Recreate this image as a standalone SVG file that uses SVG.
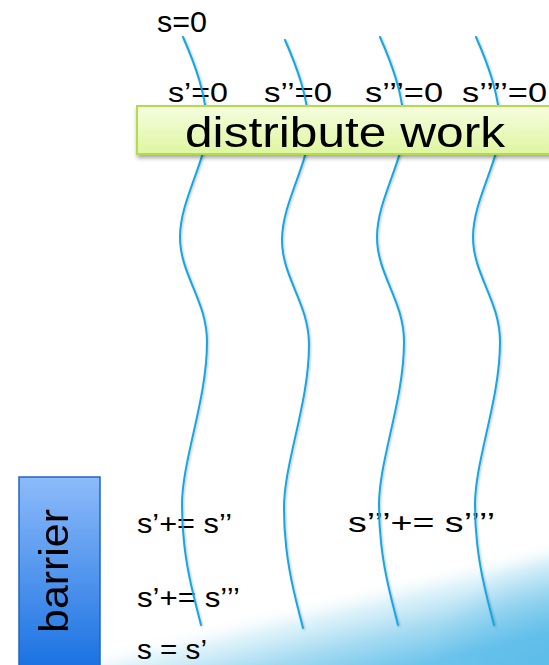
<svg xmlns="http://www.w3.org/2000/svg" xmlns:xlink="http://www.w3.org/1999/xlink" width="549" height="665" viewBox="0 0 549 665">
  <style>
    .t { font-family: "Liberation Sans", Arial, sans-serif; fill: #000; }
    .thread { fill: none; stroke: #14a6e6; stroke-width: 2; stroke-linecap: round; }
  </style>
  <defs>
    <linearGradient id="water" gradientUnits="userSpaceOnUse" x1="330" y1="592" x2="352" y2="682">
      <stop offset="0" stop-color="#ffffff" stop-opacity="0"/>
      <stop offset="0.25" stop-color="#dcf2fa" stop-opacity="0.9"/>
      <stop offset="0.6" stop-color="#a6dbf2"/>
      <stop offset="1" stop-color="#6cc4ec"/>
    </linearGradient>
    <radialGradient id="deep" cx="570" cy="700" r="150" gradientUnits="userSpaceOnUse">
      <stop offset="0" stop-color="#4fb6e6" stop-opacity="0.7"/>
      <stop offset="1" stop-color="#4fb6e6" stop-opacity="0"/>
    </radialGradient>
    <linearGradient id="green" x1="0" y1="0" x2="0" y2="1">
      <stop offset="0" stop-color="#f6fde0"/>
      <stop offset="1" stop-color="#def6a0"/>
    </linearGradient>
    <linearGradient id="blue" x1="0" y1="0" x2="0" y2="1">
      <stop offset="0" stop-color="#8dbbfa"/>
      <stop offset="1" stop-color="#146ee0"/>
    </linearGradient>
    <filter id="shadow" x="-10%" y="-20%" width="120%" height="160%">
      <feDropShadow dx="1" dy="3" stdDeviation="2" flood-color="#000" flood-opacity="0.35"/>
    </filter>
    <filter id="lineshadow" x="-20%" y="-5%" width="140%" height="110%">
      <feDropShadow dx="1" dy="1" stdDeviation="0.8" flood-color="#000" flood-opacity="0.25"/>
    </filter>
    <path id="wave" d="M183,37 C194,62 207,95 207,128 C207,160 180,200 180,237 C180,275 207,300 207,342 C207,400 182,460 182,505 C182,560 195,600 201,625"/>
  </defs>

  <rect width="549" height="665" fill="#ffffff"/>
  <rect x="0" y="400" width="549" height="265" fill="url(#water)"/>
  <rect x="300" y="400" width="249" height="265" fill="url(#deep)"/>

  <g id="labels-top">
    <text class="t" x="157" y="32" font-size="30" textLength="50" lengthAdjust="spacingAndGlyphs">s=0</text>
    <text class="t" x="168" y="102" font-size="28" textLength="60" lengthAdjust="spacingAndGlyphs">s’=0</text>
    <text class="t" x="264" y="102" font-size="28" textLength="68" lengthAdjust="spacingAndGlyphs">s’’=0</text>
    <text class="t" x="365" y="102" font-size="28" textLength="78" lengthAdjust="spacingAndGlyphs">s’’’=0</text>
    <text class="t" x="462" y="102" font-size="28" textLength="85" lengthAdjust="spacingAndGlyphs">s’’’’=0</text>
  </g>

  <g id="labels-bottom">
    <text class="t" x="137" y="533" font-size="28" textLength="95" lengthAdjust="spacingAndGlyphs">s’+= s’’</text>
    <text class="t" x="348" y="532" font-size="28" textLength="147" lengthAdjust="spacingAndGlyphs">s’’’+= s’’’’</text>
    <text class="t" x="137" y="607" font-size="28" textLength="103" lengthAdjust="spacingAndGlyphs">s’+= s’’’</text>
    <text class="t" x="137" y="659" font-size="28" textLength="70" lengthAdjust="spacingAndGlyphs">s = s’</text>
  </g>

  <g id="threads" filter="url(#lineshadow)">
    <use href="#wave" xlink:href="#wave" class="thread"/>
    <use href="#wave" xlink:href="#wave" class="thread" transform="translate(102 3)"/>
    <use href="#wave" xlink:href="#wave" class="thread" transform="translate(197 0)"/>
    <use href="#wave" xlink:href="#wave" class="thread" transform="translate(293 0)"/>
  </g>

  <g id="distribute">
    <rect x="137" y="106" width="420" height="48" fill="url(#green)" stroke="#b2dc4c" stroke-width="2" filter="url(#shadow)"/>
    <text class="t" x="185" y="147" font-size="42" textLength="320" lengthAdjust="spacingAndGlyphs">distribute work</text>
  </g>

  <g id="barrier">
    <rect x="19" y="477" width="81" height="200" fill="url(#blue)" stroke="#1f64c8" stroke-width="1.5"/>
    <text class="t" transform="translate(68 571) rotate(-90)" x="0" y="0" font-size="40" text-anchor="middle" textLength="124" lengthAdjust="spacingAndGlyphs">barrier</text>
  </g>
</svg>
